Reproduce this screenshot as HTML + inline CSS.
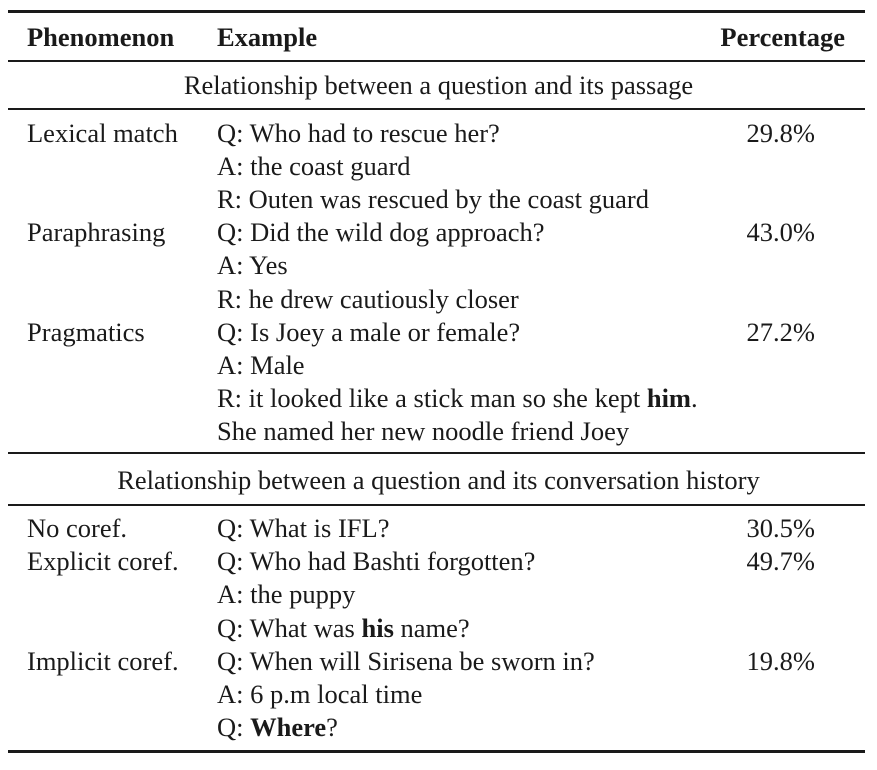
<!DOCTYPE html>
<html><head><meta charset="utf-8"><style>
body{margin:0;width:877px;height:770px;background:#fff;position:relative;overflow:hidden;font-family:"Liberation Serif","Times New Roman",serif;font-size:26.5px;color:#1a1a1a}
.t{position:absolute;height:34px;line-height:34px;white-space:nowrap}
.r{position:absolute;left:8px;width:857px;background:#1a1a1a}
.c1{left:27px}.c2{left:217px}.c3{right:62px;text-align:right}
.sec{left:0;width:877px;text-align:center}
b{font-weight:bold}
</style></head><body>
<div class="r" style="top:10px;height:3px"></div>
<div class="t c1" style="top:20px"><b>Phenomenon</b></div>
<div class="t c2" style="top:20px"><b>Example</b></div>
<div class="t" style="top:20px;right:32px"><b>Percentage</b></div>
<div class="r" style="top:60px;height:1.5px"></div>
<div class="t sec" style="top:68px">Relationship between a question and its passage</div>
<div class="r" style="top:108px;height:1.5px"></div>
<div class="r" style="top:452px;height:1.5px"></div>
<div class="t sec" style="top:463px">Relationship between a question and its conversation history</div>
<div class="r" style="top:504px;height:2px"></div>
<div class="r" style="top:750px;height:2.5px"></div>
<script>
const rows1=[["Lexical match","Q: Who had to rescue her?","29.8%"],["","A: the coast guard",""],["","R: Outen was rescued by the coast guard",""],["Paraphrasing","Q: Did the wild dog approach?","43.0%"],["","A: Yes",""],["","R: he drew cautiously closer",""],["Pragmatics","Q: Is Joey a male or female?","27.2%"],["","A: Male",""],["","R: it looked like a stick man so she kept <b>him</b>.",""],["","She named her new noodle friend Joey",""]];
const rows2=[["No coref.","Q: What is IFL?","30.5%"],["Explicit coref.","Q: Who had Bashti forgotten?","49.7%"],["","A: the puppy",""],["","Q: What was <b>his</b> name?",""],["Implicit coref.","Q: When will Sirisena be sworn in?","19.8%"],["","A: 6 p.m local time",""],["","Q: <b>Where</b>?",""]];
function draw(rows,start,pitch,prefix){
rows.forEach((r,i)=>{
const top=start+i*pitch-17;
[["c1",r[0],"phenomenon"],["c2",r[1],"example"],["c3",r[2],"percentage"]].forEach(([c,txt,n])=>{
if(!txt)return;
const d=document.createElement('div');
d.className='t '+c;d.style.top=top+'px';d.innerHTML=txt;


document.body.appendChild(d);});});}
draw(rows1,133,33.1,'passage');
draw(rows2,528,33.2,'history');
</script>
</body></html>
